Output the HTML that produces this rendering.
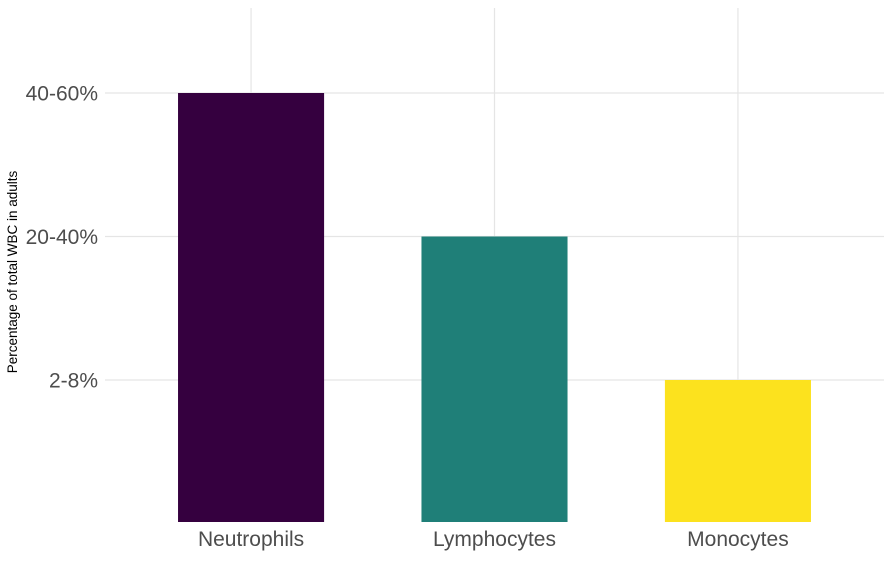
<!DOCTYPE html>
<html><head><meta charset="utf-8"><style>
body{margin:0;background:#fff;}
svg{display:block;font-family:"Liberation Sans",sans-serif;}
</style></head><body>
<svg id="chart" width="892" height="574">
<g id="grid"></g>
<g id="bars"></g>
<g id="xlabels"></g>
<g id="ylabels"></g>
<text transform="translate(17,272) rotate(-90)" text-anchor="middle" font-size="13.5" fill="#000">Percentage of total WBC in adults</text>
</svg>
<script>
const categories=["Neutrophils","Lymphocytes","Monocytes"];
const levels=["2-8%","20-40%","40-60%"];
const values=["40-60%","20-40%","2-8%"];
const colors=["#35003f","#1f7f78","#fce21e"];
const NS="http://www.w3.org/2000/svg";
const L=105,R=884,T=8,B=522;
const xStep=(R-L)/(categories.length-1+1.2);
function x(i){return L+xStep*(0.6+i);}
const yStep=143.5;
function y(v){return B+1.5-v*yStep;}
function mk(t,a,p){const e=document.createElementNS(NS,t);for(const k in a)e.setAttribute(k,a[k]);p.appendChild(e);return e;}
const grid=document.getElementById('grid'),bars=document.getElementById('bars'),xl=document.getElementById('xlabels'),yl=document.getElementById('ylabels');
levels.forEach((lv,i)=>{
 const g=mk('line',{x1:L,x2:R,y1:y(i+1),y2:y(i+1),stroke:'#e5e5e5','stroke-width':1.2},grid);
 
 
 const t=mk('text',{x:98,y:y(i+1)+7.5,'text-anchor':'end','font-size':21,fill:'#4d4d4d'},yl);
 t.textContent=lv;
 
 
});
categories.forEach((c,i)=>{
 const g=mk('line',{x1:x(i),x2:x(i),y1:T,y2:B,stroke:'#e5e5e5','stroke-width':1.2},grid);
 
 
});
categories.forEach((c,i)=>{
 const lvl=levels.indexOf(values[i])+1;
 const w=xStep*0.6;
 const r=mk('rect',{x:x(i)-w/2,y:y(lvl),width:w,height:B-y(lvl),fill:colors[i]},bars);
 
 
 const t=mk('text',{x:x(i),y:546,'text-anchor':'middle','font-size':21,fill:'#4d4d4d'},xl);
 t.textContent=c;
 
 
});
</script>
</body></html>
